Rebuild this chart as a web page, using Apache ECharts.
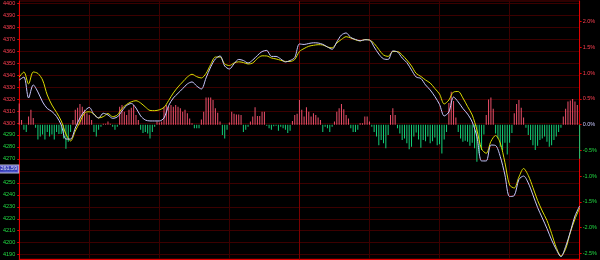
<!DOCTYPE html>
<html><head><meta charset="utf-8">
<script src="https://cdn.jsdelivr.net/npm/echarts@6/dist/echarts.min.js"></script>
<style>html,body{margin:0;padding:0;background:#000;}#c{width:600px;height:260px;}</style>
</head><body><div id="c"></div>
<script>
const basePrice = 4298.6;
const priceMin = 4186.4;
const priceMax = 4401.9;
const priceTicks = [4190,4200,4210,4220,4230,4240,4250,4260,4270,4280,4290,4300,4310,4320,4330,4340,4350,4360,4370,4380,4390,4400];
const pctTicks = [-2.5,-2.0,-1.5,-1.0,-0.5,0.0,0.5,1.0,1.5,2.0];
const lastPriceTag = 4261.59;
const lineMinutes = Array.from({length: 121}, (_, k) => k * 2);
const priceLine = [
 4335.9,4338.4,4320.9,4331.8,4325.9,4317.6,4312.1,4309.6,4305.4,4298.3,
 4286.6,4286.6,4295.8,4304.2,4310.0,4313.0,4307.1,4304.2,4308.1,4306.7,
 4303.9,4305.0,4310.0,4314.6,4316.3,4312.5,4305.9,4302.5,4301.7,4301.7,
 4301.7,4304.2,4314.6,4320.9,4324.8,4328.7,4332.6,4334.3,4330.9,4328.4,
 4337.6,4346.8,4353.5,4356.0,4347.6,4345.1,4349.5,4353.1,4352.2,4350.1,
 4352.6,4356.4,4359.7,4360.6,4355.6,4355.6,4353.5,4351.0,4352.2,4354.7,
 4366.0,4365.6,4366.4,4367.0,4366.8,4365.7,4363.5,4361.6,4367.7,4373.5,
 4375.2,4371.4,4369.8,4368.7,4369.5,4369.3,4363.5,4357.6,4353.6,4353.1,
 4360.2,4359.3,4354.3,4350.5,4344.3,4338.4,4337.2,4331.8,4327.6,4322.1,
 4315.5,4305.9,4309.2,4321.7,4317.6,4312.1,4307.5,4300.8,4288.6,4268.3,
 4268.3,4281.6,4281.2,4272.0,4256.6,4238.6,4239.4,4252.8,4255.7,4249.9,
 4239.9,4229.4,4220.7,4211.9,4202.3,4194.3,4188.3,4196.8,4209.0,4222.3,
 4230.7];
const avgLine = [
 4338.4,4342.6,4332.6,4342.6,4341.4,4335.9,4323.4,4315.0,4308.8,4301.7,
 4290.8,4285.0,4293.3,4300.8,4308.4,4309.4,4307.5,4304.2,4305.3,4307.9,
 4305.3,4306.7,4312.1,4315.5,4317.7,4318.6,4316.7,4313.4,4310.5,4310.3,
 4311.0,4313.0,4318.8,4325.1,4330.1,4334.3,4338.4,4340.7,4338.7,4337.6,
 4341.4,4348.9,4355.1,4355.1,4349.3,4348.0,4350.1,4351.1,4350.5,4349.3,
 4350.1,4353.9,4356.1,4356.0,4354.3,4353.5,4352.4,4351.4,4351.4,4353.1,
 4359.7,4362.2,4364.1,4364.9,4365.4,4365.2,4363.5,4362.7,4366.8,4369.8,
 4372.1,4371.0,4369.5,4368.5,4369.7,4369.3,4366.4,4361.4,4356.8,4355.6,
 4359.7,4359.7,4356.8,4352.6,4347.6,4341.4,4338.9,4335.9,4333.4,4328.8,
 4324.2,4315.9,4319.2,4325.9,4326.3,4320.9,4313.8,4306.7,4294.2,4278.3,
 4274.7,4284.6,4289.6,4283.3,4267.0,4248.2,4245.7,4254.9,4262.0,4256.2,
 4246.1,4235.3,4226.5,4218.6,4207.7,4196.0,4188.9,4194.8,4208.5,4219.8,
 4229.0];
const barValues = [
 0.41,0.09,-0.10,-0.14,0.16,0.29,0.13,-0.06,-0.29,-0.23,
 -0.19,-0.29,-0.14,-0.23,-0.19,-0.29,-0.14,-0.18,-0.18,-0.27,
 -0.47,-0.33,-0.14,0.09,0.29,0.33,0.40,0.35,0.29,0.22,
 0.19,0.09,-0.14,-0.23,-0.10,-0.04,0.02,0.02,0.06,0.02,
 -0.04,-0.10,-0.04,0.35,0.38,0.25,0.19,0.29,0.33,0.38,
 0.19,0.09,-0.10,-0.16,-0.14,-0.17,-0.27,-0.14,-0.04,0.06,
 0.04,0.06,0.35,0.38,0.35,0.38,0.35,0.38,0.35,0.32,
 0.25,0.29,0.22,0.12,0.03,-0.07,-0.07,-0.07,0.10,0.25,
 0.53,0.53,0.53,0.48,0.32,0.23,0.06,-0.20,-0.27,-0.10,
 0.04,0.25,0.21,0.20,0.20,0.19,-0.14,-0.10,-0.04,0.06,
 0.16,0.34,0.17,0.17,0.25,0.25,-0.02,-0.07,-0.10,-0.03,
 -0.02,-0.12,-0.04,-0.07,-0.10,-0.16,-0.12,0.07,0.19,0.21,
 0.48,0.29,0.16,0.34,0.25,0.16,0.22,0.19,0.14,0.09,
 -0.14,-0.04,-0.07,-0.14,-0.04,0.06,0.25,0.32,0.40,0.30,
 0.19,0.12,-0.07,-0.14,-0.14,-0.10,0.03,0.03,0.16,0.16,
 0.06,-0.04,-0.14,-0.23,-0.40,-0.30,-0.36,-0.46,-0.20,0.19,
 0.32,0.19,-0.07,-0.17,-0.30,-0.27,-0.36,-0.48,-0.43,-0.23,
 -0.15,-0.29,-0.45,-0.30,-0.32,-0.23,-0.36,-0.32,-0.25,-0.40,
 -0.38,-0.56,-0.29,-0.14,0.42,0.64,0.46,0.14,-0.14,-0.27,
 -0.33,-0.31,-0.33,-0.41,-0.35,-0.46,-0.72,-0.56,-0.49,-0.19,
 0.19,0.49,0.53,0.31,-0.17,-0.27,-0.43,-0.49,-0.35,-0.58,
 -0.35,-0.16,0.22,0.40,0.48,0.33,0.14,-0.06,-0.20,-0.30,
 -0.40,-0.49,-0.41,-0.30,-0.27,-0.23,-0.33,-0.43,-0.40,-0.30,
 -0.23,-0.14,-0.06,0.16,0.31,0.45,0.47,0.50,0.45,0.38,
 -0.66];

const RED = '#ff4052', GREEN = '#22dd44', ZERO = '#c8c8ff';
const BAR_UP = '#ec4f6a', BAR_DOWN = '#14cf78';
const AXIS = '#e00000', GRID = '#3c0000', MID = '#7a0000';
const pct = p => (p / basePrice - 1) * 100;
const font = 'Liberation Sans, Arial, sans-serif';

const chart = echarts.init(document.getElementById('c'), null, {renderer: 'canvas'});
chart.setOption({
  backgroundColor: '#000',
  animation: false,
  grid: {left: 19, right: 19, top: 1, bottom: 1, show: true, borderColor: '#5a0000', borderWidth: 1},
  xAxis: {
    type: 'value', min: 0, max: 240, interval: 30,
    axisLine: {show: true, onZero: false, lineStyle: {color: AXIS}},
    axisTick: {show: false}, axisLabel: {show: false},
    splitLine: {show: true, lineStyle: {color: [GRID, GRID, GRID, GRID, MID, GRID, GRID, GRID, GRID], width: 1}}
  },
  yAxis: [{
    type: 'value', position: 'left', min: priceMin, max: priceMax,
    axisLine: {show: true, onZero: false, lineStyle: {color: AXIS}},
    axisTick: {show: true, customValues: priceTicks, length: 2, lineStyle: {color: AXIS}},
    axisLabel: {customValues: priceTicks, fontSize: 5.5, fontFamily: font, margin: 4,
      color: v => (v >= basePrice ? RED : GREEN), formatter: v => String(v)},
    splitLine: {show: true, lineStyle: {color: GRID, width: 1}}
  }, {
    type: 'value', position: 'right', min: pct(priceMin), max: pct(priceMax),
    axisLine: {show: true, onZero: false, lineStyle: {color: AXIS}},
    axisTick: {show: true, customValues: pctTicks, length: 2, lineStyle: {color: AXIS}},
    axisLabel: {customValues: pctTicks, fontSize: 5.5, fontFamily: font, margin: 3,
      color: v => (Math.abs(v) < 1e-9 ? ZERO : (v > 0 ? RED : GREEN)),
      formatter: v => (Math.abs(v) < 1e-9 ? 0 : v).toFixed(1) + '%'},
    splitLine: {show: false}
  }],
  series: [{
    type: 'bar', yAxisIndex: 1, barWidth: 1, z: 3,
    data: barValues.map((v, i) => [i, v]),
    itemStyle: {color: p => (p.value[1] >= 0 ? BAR_UP : BAR_DOWN)}
  }, {
    type: 'line', yAxisIndex: 0, showSymbol: false, smooth: 0.3, z: 4,
    data: lineMinutes.map((m, k) => [m, avgLine[k]]),
    lineStyle: {color: '#dcdc00', width: 1}
  }, {
    type: 'line', yAxisIndex: 0, showSymbol: false, smooth: 0.3, z: 5,
    data: lineMinutes.map((m, k) => [m, priceLine[k]]),
    lineStyle: {color: '#c8c8ff', width: 1}
  }, {
    type: 'scatter', yAxisIndex: 0, symbolSize: 0, silent: true, clip: false,
    data: [[0, lastPriceTag]],
    label: {show: true, position: 'left', distance: 1, formatter: String(lastPriceTag),
      fontSize: 5.5, fontFamily: font, color: '#ffffff', backgroundColor: '#4646e0',
      borderColor: '#e0e0ff', borderWidth: 1, padding: [1, 1, 0, 1]}
  }]
});
</script>
</body></html>
